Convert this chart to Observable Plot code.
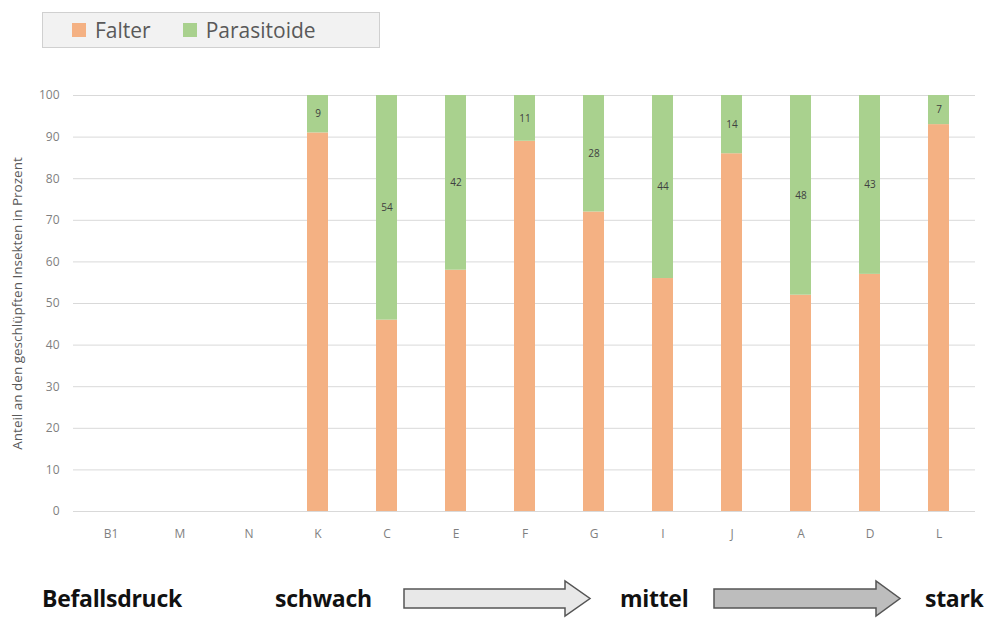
<!DOCTYPE html>
<html>
<head>
<meta charset="utf-8">
<script src="https://cdn.jsdelivr.net/npm/d3@7"></script>
<script src="https://cdn.jsdelivr.net/npm/@observablehq/plot@0.6"></script>
<style>
  body { margin: 0; background: #fff; width: 989px; height: 619px; position: relative; overflow: hidden; font-family: "Open Sans", "Liberation Sans", sans-serif; }
  #legend { position: absolute; left: 42px; top: 12px; width: 336px; height: 34px; background: #f2f2f2; border: 1px solid #d0d0d0; display: flex; align-items: center; font-family: "Open Sans", sans-serif; font-size: 21px; color: #595959; z-index: 2; }
  .sw { display: inline-block; width: 14px; height: 14px; margin-right: 9px; }
  .item { display: flex; align-items: center; }
  #chart { position: absolute; left: 0; top: 0; }
  .bt { position: absolute; top: 580px; font-family: "Open Sans", sans-serif; font-weight: bold; font-size: 23px; color: #111; line-height: 36px; letter-spacing: -0.3px; }
  #arrows { position: absolute; left: 0; top: 570px; }
</style>
</head>
<body>
<div id="chart"></div>
<div id="legend">
  <span class="item" style="margin-left:29px"><span class="sw" style="background:#F4B183"></span>Falter</span>
  <span class="item" style="margin-left:32px"><span class="sw" style="background:#A9D18E"></span>Parasitoide</span>
</div>
<svg id="arrows" width="989" height="49">
  <path d="M404,19 L565,19 L565,11 L590,28.5 L565,46 L565,38 L404,38 Z" fill="#e8e8e8" stroke="#555" stroke-width="1.5"/>
  <path d="M714,19 L876,19 L876,11 L900,28.5 L876,46 L876,38 L714,38 Z" fill="#bdbdbd" stroke="#555" stroke-width="1.5"/>
</svg>
<div class="bt" style="left:42px">Befallsdruck</div>
<div class="bt" style="left:275px">schwach</div>
<div class="bt" style="left:620px">mittel</div>
<div class="bt" style="left:925px">stark</div>
<script>
const categories = ["B1","M","N","K","C","E","F","G","I","J","A","D","L"];
const falter =      [null,null,null,91,46,58,89,72,56,86,52,57,93];
const parasitoide = [null,null,null, 9,54,42,11,28,44,14,48,43, 7];
const seriesNames = ["Falter","Parasitoide"];
const seriesColors = ["#F4B183","#A9D18E"];
const yTicks = [0,10,20,30,40,50,60,70,80,90,100];
const yLabel = "Anteil an den geschlüpften Insekten in Prozent";

const rows = [];
categories.forEach((c, i) => {
  if (falter[i] != null) rows.push({cat: c, series: "Falter", value: falter[i]});
  if (parasitoide[i] != null) rows.push({cat: c, series: "Parasitoide", value: parasitoide[i]});
});

const chart = Plot.plot({
  width: 989,
  height: 550,
  marginLeft: 73,
  marginRight: 14,
  marginTop: 95,
  marginBottom: 39,
  style: {fontFamily: "'Open Sans', sans-serif", fontSize: "12px", color: "#7f7f7f", background: "transparent"},
  x: {domain: categories, paddingInner: 0.7, paddingOuter: 0.35, label: null},
  y: {domain: [0, 100], ticks: yTicks, label: null},
  color: {domain: seriesNames, range: seriesColors},
  marks: [
    Plot.gridY(yTicks, {stroke: "#d9d9d9", strokeOpacity: 1, strokeWidth: 1}),
    Plot.axisY(yTicks, {tickSize: 0, tickPadding: 14, label: null, fill: "#7f7f7f"}),
    Plot.axisX({tickSize: 0, tickPadding: 18, label: null, fill: "#7f7f7f", fontSize: 12}),
    Plot.barY(rows, {x: "cat", y: "value", fill: "series", order: seriesNames}),
    Plot.text(rows, Plot.stackY({
      x: "cat", y: "value", z: "series", order: seriesNames,
      text: d => d.series === "Parasitoide" ? String(d.value) : null,
      fill: "#404040", fontSize: 10
    })),
    Plot.text([yLabel], {frameAnchor: "left", textAnchor: "middle", rotate: -90, dx: -56, text: d => d, fill: "#595959", fontSize: 13.5})
  ]
});
document.getElementById("chart").appendChild(chart);
</script>
</body>
</html>
